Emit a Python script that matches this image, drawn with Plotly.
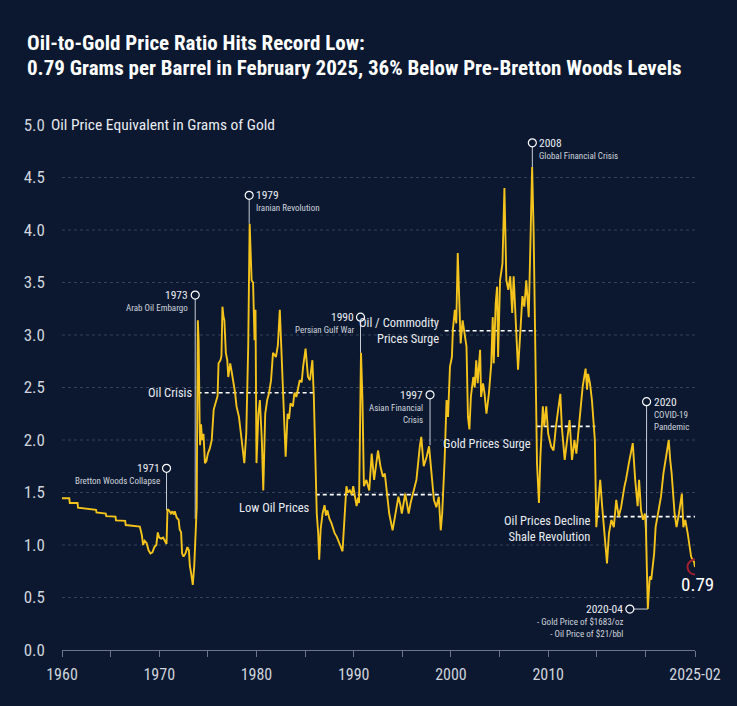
import plotly.graph_objects as go

# ---------------- data ----------------
title_line1 = "Oil-to-Gold Price Ratio Hits Record Low:"
title_line2 = "0.79 Grams per Barrel in February 2025, 36% Below Pre-Bretton Woods Levels"
y_axis_title = "Oil Price Equivalent in Grams of Gold"

years = [
    1960.0, 1960.75, 1960.8, 1961.6, 1961.65, 1962.5, 1963.5, 1963.55, 1964.5, 1964.55,
    1965.5, 1965.55, 1966.5, 1966.55, 1967.5, 1968.0, 1968.2, 1968.35, 1968.5, 1968.7,
    1968.9, 1969.1, 1969.3, 1969.5, 1969.7, 1969.85, 1970.0, 1970.2, 1970.4, 1970.6,
    1970.75, 1970.85, 1971.0, 1971.2, 1971.35, 1971.5, 1971.6, 1971.8, 1972.0, 1972.1,
    1972.25, 1972.35, 1972.5, 1972.7, 1972.9, 1973.05, 1973.15, 1973.3, 1973.45, 1973.6,
    1973.75, 1973.85, 1973.97, 1974.05, 1974.15, 1974.2, 1974.3, 1974.4, 1974.55, 1974.7,
    1974.85, 1975.0, 1975.2, 1975.4, 1975.6, 1975.8, 1976.0, 1976.1, 1976.3, 1976.4,
    1976.5, 1976.6, 1976.7, 1976.85, 1977.0, 1977.1, 1977.3, 1977.45, 1977.6, 1977.8,
    1977.95, 1978.2, 1978.35, 1978.5, 1978.75, 1978.95, 1979.15, 1979.3, 1979.5, 1979.65,
    1979.8, 1979.9, 1980.0, 1980.2, 1980.35, 1980.55, 1980.7, 1980.9, 1981.1, 1981.3,
    1981.5, 1981.7, 1982.0, 1982.2, 1982.4, 1982.55, 1982.75, 1983.0, 1983.2, 1983.35,
    1983.5, 1983.75, 1983.9, 1984.1, 1984.3, 1984.45, 1984.65, 1984.8, 1985.05, 1985.3,
    1985.5, 1985.75, 1985.9, 1986.05, 1986.2, 1986.35, 1986.45, 1986.6, 1986.8, 1987.0,
    1987.15, 1987.3, 1987.5, 1987.7, 1987.9, 1988.05, 1988.25, 1988.4, 1988.6, 1988.85,
    1989.1, 1989.25, 1989.4, 1989.6, 1989.8, 1989.95, 1990.15, 1990.3, 1990.45, 1990.55,
    1990.75, 1990.9, 1991.05, 1991.3, 1991.6, 1991.85, 1992.1, 1992.3, 1992.5, 1992.75,
    1993.0, 1993.2, 1993.35, 1993.65, 1994.0, 1994.2, 1994.35, 1994.6, 1994.8, 1994.95,
    1995.3, 1995.5, 1995.65, 1995.85, 1996.0, 1996.25, 1996.45, 1996.8, 1996.95, 1997.2,
    1997.5, 1997.75, 1998.0, 1998.25, 1998.5, 1998.75, 1998.95, 1999.1, 1999.35, 1999.55,
    1999.7, 1999.9, 2000.1, 2000.2, 2000.4, 2000.55, 2000.7, 2000.85, 2001.0, 2001.2,
    2001.35, 2001.6, 2001.75, 2001.9, 2002.05, 2002.3, 2002.45, 2002.6, 2002.75, 2003.0,
    2003.1, 2003.3, 2003.45, 2003.65, 2003.9, 2004.15, 2004.3, 2004.4, 2004.6, 2004.75,
    2004.85, 2005.05, 2005.3, 2005.5, 2005.7, 2005.9, 2006.1, 2006.3, 2006.45, 2006.7,
    2006.9, 2007.15, 2007.35, 2007.55, 2007.75, 2008.0, 2008.35, 2008.5, 2008.65, 2008.85,
    2009.05, 2009.2, 2009.45, 2009.6, 2009.8, 2010.0, 2010.3, 2010.55, 2010.8, 2010.95,
    2011.25, 2011.4, 2011.7, 2011.95, 2012.2, 2012.45, 2012.7, 2012.9, 2013.1, 2013.4,
    2013.55, 2013.85, 2014.0, 2014.1, 2014.3, 2014.5, 2014.8, 2014.95, 2015.2, 2015.35,
    2015.55, 2015.8, 2016.05, 2016.25, 2016.5, 2016.75, 2017.0, 2017.25, 2017.5, 2017.85,
    2018.0, 2018.3, 2018.7, 2018.95, 2019.2, 2019.35, 2019.55, 2019.75, 2019.95, 2020.05,
    2020.15, 2020.25, 2020.35, 2020.45, 2020.6, 2020.9, 2021.05, 2021.3, 2021.6, 2021.85,
    2022.2, 2022.4, 2022.55, 2022.7, 2023.0, 2023.2, 2023.45, 2023.75, 2023.9, 2024.1,
    2024.35, 2024.55, 2024.7, 2024.85, 2025.0, 2025.1,
]
ratio = [
    1.445, 1.445, 1.40, 1.40, 1.355, 1.345, 1.335, 1.31, 1.30, 1.275,
    1.27, 1.235, 1.23, 1.19, 1.18, 1.175, 1.10, 1.00, 1.04, 1.02,
    0.95, 0.92, 0.93, 0.98, 1.00, 1.12, 1.07, 1.06, 1.07, 1.03,
    1.01, 1.34, 1.33, 1.30, 1.32, 1.29, 1.32, 1.26, 1.24, 1.15,
    1.12, 0.92, 0.89, 0.92, 0.98, 0.95, 0.80, 0.72, 0.62, 0.80,
    1.21, 1.35, 3.14, 2.95, 2.20, 1.95, 2.15, 2.00, 2.06, 1.78,
    1.80, 1.87, 1.92, 2.00, 2.29, 2.36, 2.42, 2.73, 2.76, 2.80,
    3.27, 3.18, 3.14, 2.83, 2.76, 2.60, 2.73, 2.65, 2.57, 2.45,
    2.32, 2.22, 2.10, 2.00, 1.78, 2.06, 2.89, 4.06, 3.52, 3.50,
    2.95, 3.24, 1.78, 2.25, 2.38, 2.00, 1.52, 2.25, 2.38, 2.45,
    2.57, 2.83, 2.79, 2.90, 3.24, 2.89, 2.41, 1.84, 2.25, 2.20,
    2.35, 2.32, 2.45, 2.41, 2.50, 2.57, 2.55, 2.70, 2.87, 2.60,
    2.57, 2.76, 2.41, 1.80, 1.30, 1.11, 0.86, 1.15, 1.30, 1.38,
    1.28, 1.33, 1.25, 1.21, 1.15, 1.11, 1.08, 1.05, 1.00, 0.94,
    1.27, 1.56, 1.50, 1.52, 1.48, 1.56, 1.45, 1.37, 1.45, 1.40,
    2.83, 2.38, 1.56, 1.62, 1.52, 1.87, 1.62, 1.75, 1.90, 1.75,
    1.65, 1.68, 1.56, 1.30, 1.14, 1.25, 1.36, 1.46, 1.38, 1.30,
    1.49, 1.40, 1.30, 1.40, 1.46, 1.56, 1.62, 1.94, 2.03, 1.75,
    1.84, 1.94, 1.65, 1.43, 1.36, 1.46, 1.14, 1.30, 1.81, 2.38,
    2.22, 2.70, 2.79, 3.05, 3.24, 3.11, 3.78, 3.30, 2.92, 3.14,
    3.05, 2.89, 2.22, 2.10, 2.41, 2.60, 2.50, 2.76, 2.54, 2.86,
    2.41, 2.54, 2.45, 2.25, 2.44, 2.73, 3.17, 2.73, 3.30, 3.46,
    2.79, 3.52, 3.68, 4.40, 3.52, 3.43, 3.56, 3.21, 3.56, 3.05,
    2.67, 3.05, 3.37, 3.27, 3.52, 3.17, 4.60, 4.00, 3.05, 1.78,
    1.40, 1.84, 2.32, 2.13, 2.32, 2.06, 1.94, 1.90, 2.13, 2.25,
    2.44, 2.13, 1.81, 2.00, 2.19, 1.81, 2.00, 1.87, 2.06, 2.32,
    2.51, 2.68, 2.48, 2.63, 2.54, 2.38, 2.00, 1.17, 1.46, 1.62,
    1.37, 1.11, 0.825, 1.11, 1.24, 1.17, 1.43, 1.27, 1.36, 1.56,
    1.62, 1.78, 1.97, 1.62, 1.37, 1.62, 1.33, 1.24, 1.30, 1.15,
    0.86, 0.39, 0.55, 0.70, 0.67, 0.92, 1.17, 1.30, 1.46, 1.68,
    1.87, 2.00, 1.81, 1.68, 1.30, 1.17, 1.30, 1.49, 1.17, 1.24,
    1.11, 0.98, 0.89, 0.86, 0.84, 0.79,
]

x_tick_vals = [1960, 1965, 1970, 1975, 1980, 1985, 1990, 1995, 2000, 2005, 2010, 2015, 2020, 2025.1]
x_tick_text = ["1960", "", "1970", "", "1980", "", "1990", "", "2000", "", "2010", "", "", "2025-02"]
y_tick_vals = [0, 0.5, 1.0, 1.5, 2.0, 2.5, 3.0, 3.5, 4.0, 4.5, 5.0]
y_tick_text = ["0.0", "0.5", "1.0", "1.5", "2.0", "2.5", "3.0", "3.5", "4.0", "4.5", "5.0"]
grid_vals = [0.5, 1.0, 1.5, 2.0, 2.5, 3.0, 3.5, 4.0, 4.5]

# event call-outs
event_year = [1970.75, 1973.7, 1979.25, 1990.7, 1997.85, 2008.37, 2020.12]
event_top = [1.73, 3.38, 4.33, 3.17, 2.43, 4.83, 2.365]
event_base = [1.33, 1.25, 4.06, 2.83, 1.95, 4.60, 0.86]
event_label = ["1971", "1973", "1979", "1990", "1997", "2008", "2020"]
event_desc = [["Bretton Woods Collapse"], ["Arab Oil Embargo"], ["Iranian Revolution"],
              ["Persian Gulf War"], ["Asian Financial", "Crisis"], ["Global Financial Crisis"],
              ["COVID-19", "Pandemic"]]
event_side = ["left", "left", "right", "left", "left", "right", "right"]

low_label = "2020-04"
low_year = 2020.25
low_value = 0.39
low_marker_year = 2018.4
low_desc = ["- Gold Price of $1683/oz", "- Oil Price of $21/bbl"]

# period averages
period_start = [1973.95, 1986.1, 1999.35, 2008.82, 2014.88]
period_end = [1985.93, 1999.2, 2008.78, 2014.85, 2025.1]
period_level = [2.45, 1.48, 3.04, 2.13, 1.27]
period_label = [["Oil Crisis"], ["Low Oil Prices"], ["Oil / Commodity", "Prices Surge"],
                ["Gold Prices Surge"], ["Oil Prices Decline", "Shale Revolution"]]
period_label_shift = [0, -13, 0, -17, -12]

last_label = "0.79"

# ---------------- style ----------------
BG = "#0b1830"
GOLD = "#f4c31c"
GRID = "#354259"
AXIS = "#6c778a"
TXT = "#e9ecf1"
SUB = "#cfd4dc"
COND = "Liberation Sans Narrow, Arial Narrow, Roboto Condensed, Roboto, sans-serif"

fig = go.Figure()

# period dashed lines
for s, e, lv in zip(period_start, period_end, period_level):
    fig.add_trace(go.Scatter(x=[s, e], y=[lv, lv], mode="lines",
                             line=dict(color="white", width=1.6, dash="4px,3px"),
                             hoverinfo="skip", showlegend=False))

# event stems
for ey, et, eb in zip(event_year, event_top, event_base):
    fig.add_trace(go.Scatter(x=[ey, ey], y=[eb, et], mode="lines",
                             line=dict(color="#c9ced6", width=1),
                             hoverinfo="skip", showlegend=False))
fig.add_trace(go.Scatter(x=[low_marker_year, low_year], y=[low_value, low_value], mode="lines",
                         line=dict(color="#c9ced6", width=1), hoverinfo="skip", showlegend=False))

# main series
fig.add_trace(go.Scatter(x=years, y=ratio, mode="lines",
                         line=dict(color=GOLD, width=1.9), showlegend=False))

# event markers
fig.add_trace(go.Scatter(x=event_year + [low_marker_year], y=event_top + [low_value], mode="markers",
                         marker=dict(size=8, color=BG, line=dict(color="white", width=1.2)),
                         hoverinfo="skip", showlegend=False))

# last point marker
fig.add_trace(go.Scatter(x=[years[-1]], y=[ratio[-1]], mode="markers",
                         marker=dict(size=15, color="rgba(0,0,0,0)", line=dict(color="#a3202e", width=2)),
                         hoverinfo="skip", showlegend=False))

annotations = []

def text_lines(x, y, lines, anchor, first_shift, step, size, color, xshift, family=COND):
    for i, ln in enumerate(lines):
        annotations.append(dict(x=x, y=y, xref="x", yref="y", text=ln, showarrow=False,
                                xanchor=anchor, yanchor="middle", xshift=xshift,
                                yshift=first_shift - i * step,
                                font=dict(family=family, size=size, color=color)))

for ey, et, lab, desc, side in zip(event_year, event_top, event_label, event_desc, event_side):
    anchor = "right" if side == "left" else "left"
    xs = -5 if side == "left" else 5
    text_lines(ey, et, [lab], anchor, 0, 0, 11.5, TXT, xs)
    annotations.append(dict(x=ey, y=et, xref="x", yref="y", text="<br>".join(desc), showarrow=False,
                            xanchor=anchor, yanchor="top", align=anchor, xshift=xs, yshift=-6,
                            font=dict(family=COND, size=9, color=SUB)))

text_lines(low_marker_year, low_value, [low_label], "right", 0, 0, 11.5, TXT, -5)
annotations.append(dict(x=low_marker_year, y=low_value, xref="x", yref="y", text="<br>".join(low_desc),
                        showarrow=False, xanchor="right", yanchor="top", align="right", xshift=-5,
                        yshift=-6, font=dict(family=COND, size=9, color=SUB)))

for s, lv, lab, sh in zip(period_start, period_level, period_label, period_label_shift):
    annotations.append(dict(x=s, y=lv, xref="x", yref="y", text="<br>".join(lab), showarrow=False,
                            xanchor="right", yanchor="middle", align="right", xshift=-4, yshift=sh,
                            font=dict(family=COND, size=12.5, color=TXT)))

annotations.append(dict(x=years[-1], y=ratio[-1], xref="x", yref="y", text=last_label,
                        showarrow=False, xanchor="center", yanchor="middle", yshift=-17, xshift=2,
                        font=dict(family=COND, size=19, color="white")))

# y axis title next to 5.0
annotations.append(dict(x=0, y=5.0, xref="paper", yref="y", text=y_axis_title, showarrow=False,
                        xanchor="left", yanchor="middle", xshift=-13,
                        font=dict(family=COND, size=15.5, color=TXT)))

# title
annotations.append(dict(x=0, y=1, xref="paper", yref="paper", text=title_line1, showarrow=False,
                        xanchor="left", yanchor="middle", xshift=-37, yshift=82,
                        font=dict(family=COND, size=21, color="white", weight="bold")))
annotations.append(dict(x=0, y=1, xref="paper", yref="paper", text=title_line2, showarrow=False,
                        xanchor="left", yanchor="middle", xshift=-37, yshift=57,
                        font=dict(family=COND, size=21, color="white", weight="bold")))

shapes = [dict(type="line", xref="paper", x0=0, x1=1, yref="y", y0=g, y1=g,
               line=dict(color=GRID, width=1, dash="dot"), layer="below") for g in grid_vals]

fig.update_layout(
    width=737, height=706,
    margin=dict(l=62, r=42, t=125, b=56),
    paper_bgcolor=BG, plot_bgcolor=BG,
    annotations=annotations, shapes=shapes,
    xaxis=dict(range=[1960, 2025.1], tickvals=x_tick_vals, ticktext=x_tick_text,
               showgrid=False, zeroline=False, showline=True, linecolor=AXIS, linewidth=1,
               ticks="outside", ticklen=6, tickcolor=AXIS, tickwidth=1,
               tickfont=dict(family=COND, size=16, color=SUB), ticklabelstandoff=4),
    yaxis=dict(range=[0, 5], tickvals=y_tick_vals, ticktext=y_tick_text,
               showgrid=False, zeroline=False, showline=False, ticks="",
               tickfont=dict(family=COND, size=17, color=SUB), ticklabelstandoff=16),
    font=dict(family=COND, color=TXT),
)

fig.write_html("out.html")
